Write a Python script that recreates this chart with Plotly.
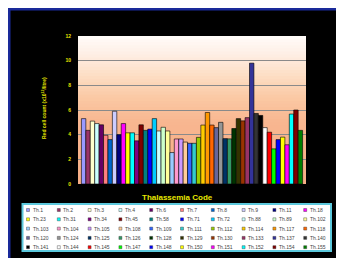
import plotly.graph_objects as go

# ---------------- data ----------------
codes = ["Th.1", "Th.2", "Th.3", "Th.4", "Th.6", "Th.7", "Th.8", "Th.9", "Th.11", "Th.18",
         "Th.23", "Th.31", "Th.34", "Th.45", "Th.58", "Th.71", "Th.72", "Th.88", "Th.89", "Th.102",
         "Th.103", "Th.104", "Th.105", "Th.108", "Th.109", "Th.111", "Th.112", "Th.114", "Th.117", "Th.118",
         "Th.120", "Th.124", "Th.125", "Th.126", "Th.128", "Th.129", "Th.130", "Th.133", "Th.137", "Th.140",
         "Th.141", "Th.144", "Th.145", "Th.147", "Th.148", "Th.150", "Th.151", "Th.152", "Th.154", "Th.155"]

red_cell_count = [5.3, 4.35, 5.1, 4.9, 4.8, 3.95, 3.6, 5.9, 4.0, 4.9,
                  4.15, 4.15, 3.5, 4.8, 4.35, 4.45, 5.3, 4.3, 4.6, 4.3,
                  2.55, 3.65, 3.65, 3.4, 3.3, 3.3, 3.78, 4.78, 5.8, 4.78,
                  4.57, 5.0, 3.68, 3.66, 4.5, 5.3, 5.12, 5.38, 9.8, 5.72,
                  5.56, 4.57, 4.2, 2.85, 3.6, 3.8, 3.18, 5.67, 6.0, 4.35]

series_colors = ['#9999FF', '#993366', '#FFFFCC', '#CCFFFF', '#660066', '#FF8080', '#0066CC', '#CCCCFF',
                 '#000080', '#FF00FF', '#FFFF00', '#00FFFF', '#800080', '#800000', '#008080', '#0000FF',
                 '#00CCFF', '#CCFFFF', '#CCFFCC', '#FFFF99', '#99CCFF', '#FF99CC', '#CC99FF', '#FFCC99',
                 '#3366FF', '#33CCCC', '#99CC00', '#FFCC00', '#FF9900', '#FF6600', '#666699', '#969696',
                 '#003366', '#339966', '#003300', '#333300', '#993300', '#993366', '#333399', '#333333',
                 '#000000', '#FFFFFF', '#FF0000', '#00FF00', '#0000FF', '#FFFF00', '#FF00FF', '#00FFFF',
                 '#800000', '#008000']

y_ticks = [0, 2, 4, 6, 8, 10, 12]
category = ["Thalassemia"]

# ---------------- layout helpers (figure pixel coords) ----------------
FW, FH = 344, 258
L, R, T, B = 70, 298, 28, 176
PW, PH = R - L, B - T


def px(x):
    return (x - L) / PW


def py(y):
    return (B - y) / PH


FONT = "Liberation Sans, Arial, sans-serif"
YELLOW = "#e8e800"

fig = go.Figure()
for name, val, col in zip(codes, red_cell_count, series_colors):
    fig.add_trace(go.Bar(x=category, y=[val], name=name,
                         marker=dict(color=col, line=dict(color="#000000", width=0.6))))

shapes = []
# blue frame around the dark chart area
shapes.append(dict(type="rect", xref="paper", yref="paper", layer="below",
                   x0=px(1), x1=px(FW + 6), y0=py(FH + 6), y1=py(1),
                   fillcolor="#000000", line=dict(color="#1a2a9a", width=3)))


# gradient plot background
def lerp(c1, c2, t):
    a = [int(c1[i:i + 2], 16) for i in (1, 3, 5)]
    b = [int(c2[i:i + 2], 16) for i in (1, 3, 5)]
    return "#%02x%02x%02x" % tuple(round(a[k] + (b[k] - a[k]) * t) for k in range(3))


stops = [(0, "#f7ae86"), (5, "#f8b690"), (7, "#fbc9a4"), (9, "#fde0c8"), (10.5, "#feeee4"), (12, "#fffcfa")]
n = 48
for i in range(n):
    y0 = 12 * i / n
    y1 = 12 * (i + 1) / n
    ym = (y0 + y1) / 2
    c = stops[-1][1]
    for j in range(len(stops) - 1):
        if stops[j][0] <= ym <= stops[j + 1][0]:
            t = (ym - stops[j][0]) / (stops[j + 1][0] - stops[j][0])
            c = lerp(stops[j][1], stops[j + 1][1], t)
            break
    shapes.append(dict(type="rect", xref="paper", yref="y", layer="below",
                       x0=0, x1=1, y0=y0, y1=min(y1 + 0.12, 12), fillcolor=c, line=dict(width=0)))

# legend box
shapes.append(dict(type="rect", xref="paper", yref="paper",
                   x0=px(14.5), x1=px(323), y0=py(243), y1=py(196),
                   fillcolor="#ffffff", line=dict(color="#5cc8dc", width=2)))

annotations = []
for i, (name, col) in enumerate(zip(codes, series_colors)):
    r, c = divmod(i, 10)
    sx = 18.5 + c * 30.8
    sy = 202 + r * 9.3
    shapes.append(dict(type="rect", xref="paper", yref="paper",
                       x0=px(sx), x1=px(sx + 3), y0=py(sy + 1.5), y1=py(sy - 1.5),
                       fillcolor=col, line=dict(color="#333333", width=0.4)))
    annotations.append(dict(xref="paper", yref="paper", x=px(sx + 4), y=py(sy),
                            xanchor="left", yanchor="middle", text=name, showarrow=False,
                            font=dict(family=FONT, size=5, color="#444444")))

# axis titles
annotations.append(dict(xref="paper", yref="paper", x=px(36), y=py(100), textangle=-90,
                        text="Red cell count (x10<sup>12</sup>/litre)", showarrow=False,
                        xanchor="center", yanchor="middle",
                        font=dict(family=FONT, size=5, color=YELLOW, weight="bold")))
annotations.append(dict(xref="paper", yref="paper", x=px(169), y=py(189),
                        text="Thalassemia Code", showarrow=False,
                        xanchor="center", yanchor="middle",
                        font=dict(family=FONT, size=8, color=YELLOW, weight="bold")))

fig.update_layout(
    width=FW, height=FH,
    margin=dict(l=L, r=FW - R, t=T, b=FH - B, pad=0),
    paper_bgcolor="#000000",
    plot_bgcolor="rgba(0,0,0,0)",
    barmode="group", bargap=0.03, bargroupgap=0,
    showlegend=False,
    shapes=shapes,
    annotations=annotations,
    xaxis=dict(showticklabels=False, showgrid=False, zeroline=False, showline=False, ticks=""),
    yaxis=dict(range=[0, 12], tickvals=y_ticks, showgrid=True, gridcolor="#8a8a8a", gridwidth=1,
               zeroline=False, showline=False, ticks="", ticklabelstandoff=6,
               tickfont=dict(family=FONT, size=5, color=YELLOW, weight="bold")),
)

fig.write_html("out.html")
